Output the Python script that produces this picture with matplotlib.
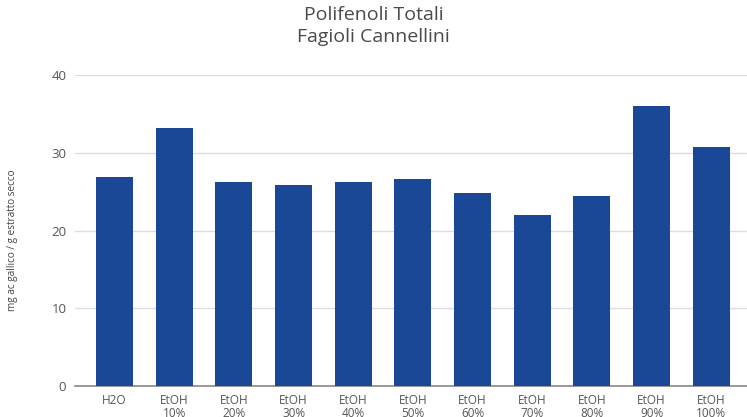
import matplotlib.pyplot as plt

categories = ['H2O', 'EtOH\n10%', 'EtOH\n20%', 'EtOH\n30%', 'EtOH\n40%', 'EtOH\n50%',
              'EtOH\n60%', 'EtOH\n70%', 'EtOH\n80%', 'EtOH\n90%', 'EtOH\n100%']
values = [26.9, 33.2, 26.2, 25.9, 26.2, 26.6, 24.8, 22.0, 24.4, 36.0, 30.7]
yticks = [0, 10, 20, 30, 40]

plt.rcParams['font.family'] = ['Open Sans', 'DejaVu Sans']

fig = plt.figure(figsize=(7.47, 4.17), dpi=100)
ax = fig.add_axes([0.100, 0.0743, 0.900, 0.7457])

x = range(len(categories))
ax.bar(x, values, width=0.62, color='#1a4896', zorder=3)

ax.set_xlim(-0.67, 10.6)
ax.set_ylim(0, 40)
ax.set_yticks(yticks)
ax.set_xticks(list(x))
ax.set_xticklabels(categories, fontsize=8.5, color='#555555', linespacing=0.95)
ax.tick_params(axis='y', labelsize=9.5, colors='#555555', length=0, pad=6)
ax.tick_params(axis='x', length=0, pad=6)

ax.grid(axis='y', color='#dddddd', linewidth=1, zorder=0)
for s in ['top', 'right', 'left']:
    ax.spines[s].set_visible(False)
ax.spines['bottom'].set_color('#888888')
ax.spines['bottom'].set_linewidth(1.2)

# y label sits a bit lower than the axes centre in the original
ax.set_ylabel('mg ac gallico / g estratto secco', fontsize=7.2, color='#444444', labelpad=20)
ax.yaxis.set_label_coords(-0.085, 0.47)

fig.suptitle('Polifenoli Totali\nFagioli Cannellini', fontsize=14, color='#4a4a4a',
             y=0.985, linespacing=1.3)

plt.savefig('out.png', dpi=100)
